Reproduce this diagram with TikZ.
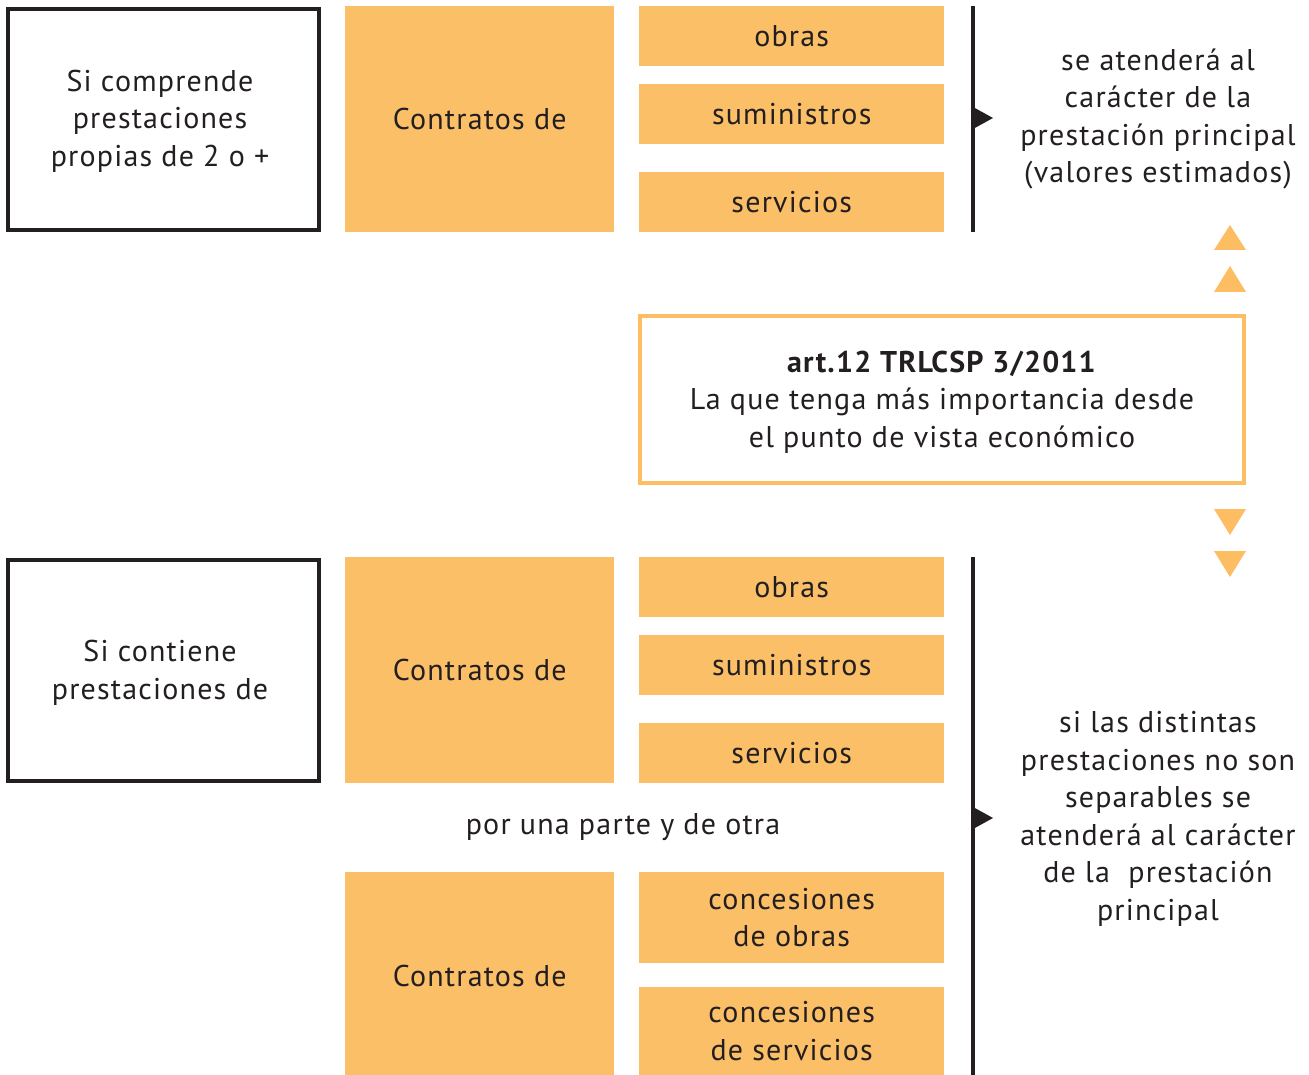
\documentclass[tikz,border=0pt]{standalone}
\usepackage{fontspec}
\setmainfont[LetterSpace=4]{PT Sans}
\definecolor{orfill}{HTML}{FBBF68}
\definecolor{orline}{HTML}{FDBD63}
\definecolor{ink}{HTML}{231F20}
\begin{document}
\begin{tikzpicture}[x=1pt,y=-1pt,
  txt/.style={font=\fontsize{30}{37.5}\selectfont, text=ink, align=center, inner sep=0pt},
  obox/.style={txt, fill=orfill, draw=none, anchor=north west},
  kbox/.style={txt, draw=ink, line width=4.5pt, fill=white},
  tri/.style={fill=orline, draw=none}]
\useasboundingbox (0,0) rectangle (1309,1075);
% ---------- top group
\node[kbox, minimum width=311pt, minimum height=221pt] (k1) at (163.5,119.5) {};
\node[txt] (k1t) at (160,121) {Si comprende\\prestaciones\\propias de 2 o +};
\node[obox, minimum width=269pt, minimum height=226pt] (c1) at (345,6) {Contratos de};
\node[obox, minimum width=305pt, minimum height=60pt] (o1) at (639,6) {obras};
\node[obox, minimum width=305pt, minimum height=60pt] (s1) at (639,84) {suministros};
\node[obox, minimum width=305pt, minimum height=60pt] (v1) at (639,172) {servicios};
\coordinate (b1t) at (973,6);
\coordinate (b1b) at (973,232);
\draw[ink, line width=4.5pt] (b1t) -- (b1b);
\fill[ink] (973,107) -- (993,118) -- (973,129) -- cycle;
\node[txt] (r1) at (1158,119) {se atenderá al\\carácter de la\\prestación principal\\(valores estimados)};
% ---------- triangles up
\fill[tri] (1230,225) -- (1246,250) -- (1214,250) -- cycle;
\fill[tri] (1230,266) -- (1246,292) -- (1214,292) -- cycle;
% ---------- central box
\node[txt, draw=orline, line width=4.5pt, minimum width=604pt, minimum height=167pt] (art) at (942,399.5) {};
\node[txt] (artt) at (942,402) {\textbf{art.12 TRLCSP 3/2011}\\La que tenga más importancia desde\\el punto de vista económico};
% ---------- triangles down
\fill[tri] (1214,509) -- (1246,509) -- (1230,535) -- cycle;
\fill[tri] (1214,551) -- (1246,551) -- (1230,577) -- cycle;
% ---------- bottom group
\node[kbox, minimum width=311pt, minimum height=221pt] (k2) at (163.5,670.5) {};
\node[txt] (k2t) at (160,673) {Si contiene\\prestaciones de};
\node[obox, minimum width=269pt, minimum height=226pt] (c2) at (345,557) {Contratos de};
\node[obox, minimum width=305pt, minimum height=60pt] (o2) at (639,557) {obras};
\node[obox, minimum width=305pt, minimum height=60pt] (s2) at (639,635) {suministros};
\node[obox, minimum width=305pt, minimum height=60pt] (v2) at (639,723) {servicios};
\node[txt] (por) at (623,827) {por una parte y de otra};
\node[obox, minimum width=269pt, minimum height=208pt] (c3) at (345,872) {Contratos de};
\node[obox, minimum width=305pt, minimum height=91pt] (co) at (639,872) {concesiones\\de obras};
\node[obox, minimum width=305pt, minimum height=88pt] (cs) at (639,987) {concesiones\\de servicios};
\coordinate (b2t) at (973,557);
\coordinate (b2b) at (973,1075);
\draw[ink, line width=4.5pt] (b2t) -- (b2b);
\fill[ink] (973,807) -- (993,818) -- (973,829) -- cycle;
\node[txt] (r2) at (1158,819) {si las distintas\\prestaciones no son\\separables se\\atenderá al carácter\\de la\ \ prestación\\principal};
\end{tikzpicture}
\end{document}
